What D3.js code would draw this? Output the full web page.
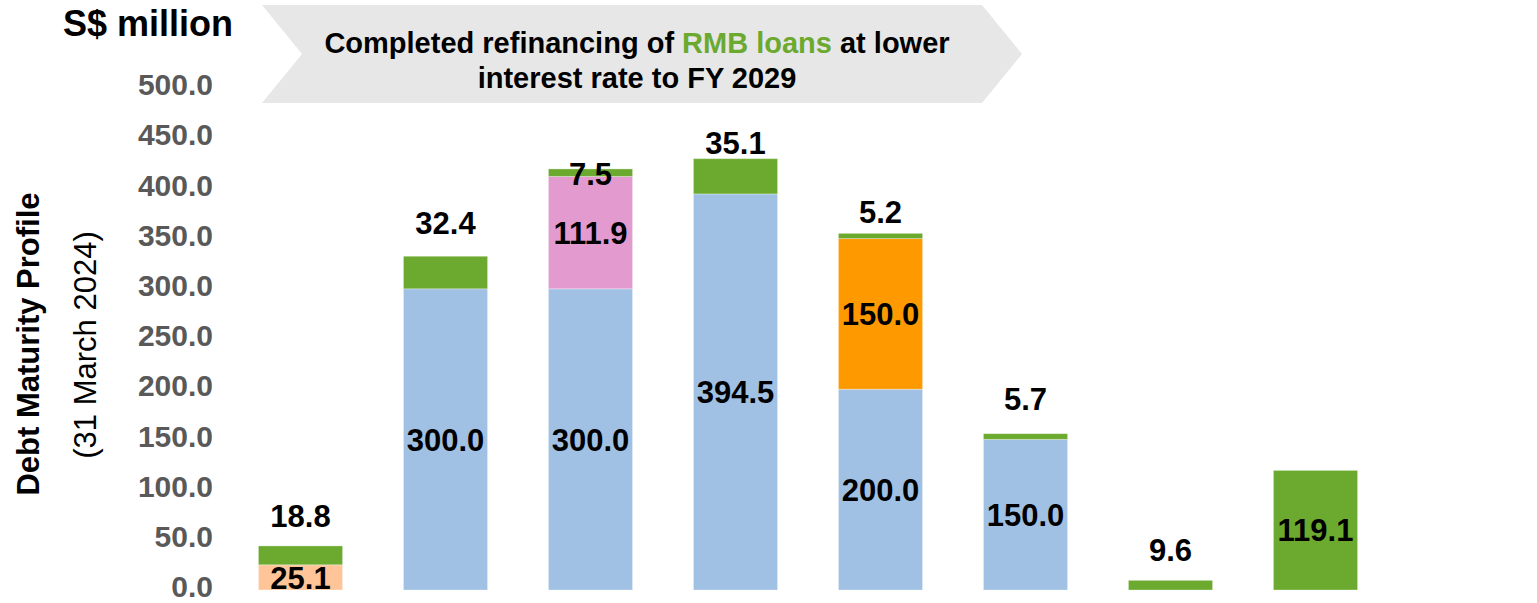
<!DOCTYPE html>
<html>
<head>
<meta charset="utf-8">
<script src="https://cdn.jsdelivr.net/npm/d3@7"></script>
<style>
  html, body { margin: 0; padding: 0; background: #fff; }
  svg { display: block; }
  text { font-family: "Liberation Sans", Arial, sans-serif; }
</style>
</head>
<body>
<svg id="chart" width="1537" height="603"></svg>
<script>
// ---- data ----
const categories = ["FY2025", "FY2026", "FY2027", "FY2028", "FY2029", "FY2030", "FY2031", "FY2032"];
const peachValues  = [25.1, 0, 0, 0, 0, 0, 0, 0];
const blueValues   = [0, 300.0, 300.0, 394.5, 200.0, 150.0, 0, 0];
const pinkValues   = [0, 0, 111.9, 0, 0, 0, 0, 0];
const orangeValues = [0, 0, 0, 0, 150.0, 0, 0, 0];
const greenValues  = [18.8, 32.4, 7.5, 35.1, 5.2, 5.7, 9.6, 119.1];
const tickValues   = [0, 50, 100, 150, 200, 250, 300, 350, 400, 450, 500];
const unitLabel = "S$ million";
const yTitle = "Debt Maturity Profile";
const ySubTitle = "(31 March 2024)";
const bannerLine1 = ["Completed refinancing of ", "RMB loans", " at lower"];
const bannerLine2 = "interest rate to FY 2029";

// ---- layout / style ----
const seriesKeys = ["peach", "blue", "pink", "orange", "green"];
const colors = { peach: "#FFC599", blue: "#A0C0E4", pink: "#E39BCF", orange: "#FF9900", green: "#6CA92F" };
const greenLabelInside = [false, false, false, false, false, false, false, true];
const greenLabelGap = [19, 22, -16, 5, 10, 24, 19, 0];

const svg = d3.select("#chart");

const rows = categories.map((c, i) => ({
  cat: c, peach: peachValues[i], blue: blueValues[i], pink: pinkValues[i],
  orange: orangeValues[i], green: greenValues[i]
}));

const x = d3.scaleBand().domain(categories).range([228, 1388]).paddingInner(0.42).paddingOuter(0.21);
const y = d3.scaleLinear().domain([0, 500]).range([590, 88]);

// banner
svg.append("polygon")
  .attr("points", "262,5 982,5 1022,54 982,103 262,103 302,54")
  .attr("fill", "#E7E7E7");
const b1 = svg.append("text").attr("x", 637).attr("y", 53)
  .attr("text-anchor", "middle").attr("font-size", 29).attr("font-weight", "bold").attr("fill", "#000");
bannerLine1.forEach((s, i) => b1.append("tspan").text(s).attr("fill", i === 1 ? "#6CA92F" : "#000"));
svg.append("text").attr("x", 637).attr("y", 88)
  .attr("text-anchor", "middle").attr("font-size", 29).attr("font-weight", "bold").attr("fill", "#000")
  .text(bannerLine2);

// unit label
svg.append("text").attr("x", 148).attr("y", 36).attr("text-anchor", "middle")
  .attr("font-size", 36).attr("font-weight", "bold").attr("fill", "#000").text(unitLabel);

// y axis titles
svg.append("text").attr("transform", "translate(28,344) rotate(-90)")
  .attr("text-anchor", "middle").attr("dominant-baseline", "central")
  .attr("font-size", 31).attr("font-weight", "bold").attr("fill", "#000").text(yTitle);
svg.append("text").attr("transform", "translate(85,345) rotate(-90)")
  .attr("text-anchor", "middle").attr("dominant-baseline", "central")
  .attr("font-size", 31).attr("fill", "#000").text(ySubTitle);

// y axis
const yAxis = d3.axisLeft(y).tickValues(tickValues).tickFormat(d3.format(".1f")).tickSize(0).tickPadding(0);
const ag = svg.append("g").attr("transform", "translate(213,0)").call(yAxis);
ag.select(".domain").remove();
ag.selectAll("text").attr("font-size", 30).attr("font-weight", "bold").attr("fill", "#595959")
  .attr("font-family", "'Liberation Sans', Arial, sans-serif").attr("dy", "0.22em");

// stacked bars
const stack = d3.stack().keys(seriesKeys);
const series = stack(rows);

const g = svg.append("g");
series.forEach(s => {
  g.selectAll(null).data(s.filter(d => d[1] - d[0] > 0)).enter().append("rect")
    .attr("x", d => x(d.data.cat))
    .attr("width", x.bandwidth())
    .attr("y", d => y(d[1]))
    .attr("height", d => y(d[0]) - y(d[1]))
    .attr("fill", colors[s.key])
    .attr("stroke", "rgba(255,255,255,0.3)")
    .attr("stroke-width", 1);
});

// labels
const lg = svg.append("g").attr("font-size", 31).attr("font-weight", "bold").attr("fill", "#000")
  .attr("text-anchor", "middle");
series.forEach(s => {
  s.forEach((d, i) => {
    const v = d[1] - d[0];
    if (v <= 0) return;
    const cx = x(d.data.cat) + x.bandwidth() / 2;
    const label = d3.format(".1f")(v);
    if (s.key === "green" && !greenLabelInside[i]) {
      lg.append("text").attr("x", cx).attr("y", y(d[1]) - greenLabelGap[i]).text(label);
    } else {
      lg.append("text").attr("x", cx).attr("y", (y(d[0]) + y(d[1])) / 2)
        .attr("dy", "0.36em").text(label);
    }
  });
});
</script>
</body>
</html>
